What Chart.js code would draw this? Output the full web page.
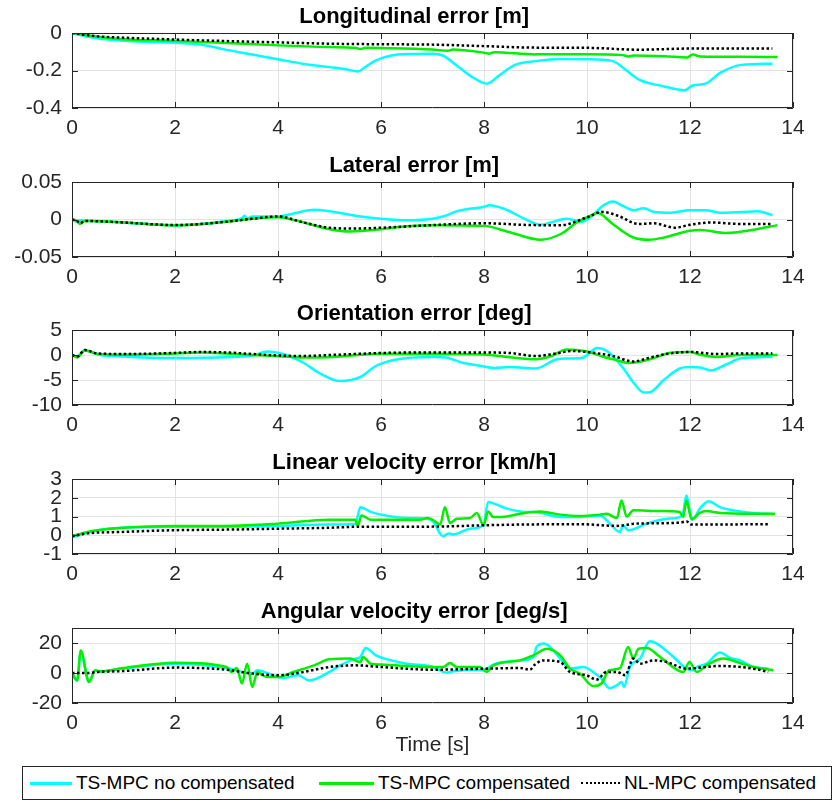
<!DOCTYPE html>
<html>
<head>
<meta charset="utf-8">
<script src="https://cdn.jsdelivr.net/npm/chart.js@4.4.1/dist/chart.umd.min.js"></script>
<style>
  body { margin: 0; background: #fff; font-family: "Liberation Sans", Arial, sans-serif; }
  #fig { position: relative; width: 838px; height: 802px; }
  #fig canvas { position: absolute; left: 0; }
  #legend { position: absolute; left: 22px; top: 766px; width: 810px; height: 34px; box-sizing: border-box; border: 1px solid #262626; }
  #legend .item { position: absolute; top: 0; height: 32px; display: flex; align-items: center; font-size: 19px; color: #000; }
  #legend .swatch { display: inline-block; width: 42px; margin-right: 4px; }
</style>
</head>
<body>
<div id="fig">
  <canvas id="c1" width="838" height="143" style="top:0px"></canvas>
  <canvas id="c2" width="838" height="143" style="top:149px"></canvas>
  <canvas id="c3" width="838" height="143" style="top:297px"></canvas>
  <canvas id="c4" width="838" height="143" style="top:446px"></canvas>
  <canvas id="c5" width="838" height="165" style="top:595px"></canvas>
  <div id="legend">
    <div class="item" style="left:7px"><span class="swatch" style="border-top:3px solid #00ffff"></span>TS-MPC no compensated</div>
    <div class="item" style="left:296px"><span class="swatch" style="border-top:3px solid #00f000;width:55px"></span>TS-MPC compensated</div>
    <div class="item" style="left:558px"><span class="swatch" style="border-top:2px dotted #000;width:39px"></span>NL-MPC compensated</div>
  </div>
</div>
<script>
// [time s, value] pairs
const xTicks = [0, 2, 4, 6, 8, 10, 12, 14];

const lonTicks = [-0.4, -0.2, 0];
const lonNoComp = [[0,0],[0.3,-0.02],[0.6,-0.032],[1,-0.042],[1.5,-0.048],[2,-0.052],[2.5,-0.062],[3,-0.09],[3.5,-0.115],[4,-0.14],[4.5,-0.165],[5,-0.182],[5.3,-0.192],[5.55,-0.205],[5.7,-0.18],[5.9,-0.146],[6.2,-0.12],[6.5,-0.112],[7,-0.11],[7.2,-0.12],[7.5,-0.18],[7.8,-0.24],[8.05,-0.27],[8.3,-0.225],[8.6,-0.17],[9,-0.15],[9.5,-0.139],[10,-0.14],[10.5,-0.15],[10.7,-0.185],[11,-0.247],[11.5,-0.285],[11.9,-0.305],[12.05,-0.28],[12.3,-0.27],[12.6,-0.21],[13,-0.17],[13.6,-0.164]];
const lonComp = [[0,0],[0.5,-0.02],[1,-0.033],[2,-0.042],[3,-0.053],[4,-0.066],[5,-0.075],[5.5,-0.079],[5.6,-0.085],[5.7,-0.079],[6,-0.08],[7,-0.088],[7.3,-0.095],[7.4,-0.088],[8,-0.105],[8.1,-0.11],[8.2,-0.102],[9,-0.114],[10,-0.113],[10.7,-0.118],[10.8,-0.125],[10.9,-0.12],[11.5,-0.124],[11.95,-0.13],[12.05,-0.115],[12.2,-0.125],[13,-0.127],[13.7,-0.128]];
const lonNl = [[0,0],[0.5,-0.018],[1,-0.025],[2,-0.035],[3,-0.043],[4,-0.05],[5,-0.057],[6,-0.06],[7,-0.062],[8,-0.07],[9,-0.078],[10,-0.079],[11,-0.089],[12,-0.083],[13.6,-0.083]];

const latTicks = [-0.05, 0, 0.05];
const latNoComp = [[0,0],[0.1,-0.003],[0.15,-0.001],[0.5,-0.002],[1,-0.004],[2,-0.0075],[2.5,-0.006],[3,-0.002],[3.3,0.002],[3.35,0.005],[3.4,0.001],[3.5,0.004],[4,0.004],[4.3,0.008],[4.7,0.013],[5,0.011],[5.5,0.005],[6,0.001],[6.5,-0.001],[7,0.001],[7.2,0.004],[7.5,0.0115],[8,0.017],[8.1,0.019],[8.4,0.014],[8.8,0.0005],[9.1,-0.007],[9.3,-0.004],[9.6,0.001],[9.9,-0.003],[10.1,0.005],[10.3,0.018],[10.5,0.024],[10.7,0.018],[10.9,0.0125],[11.1,0.015],[11.3,0.01],[11.6,0.009],[12,0.0125],[12.3,0.0125],[12.6,0.009],[13,0.01],[13.3,0.011],[13.6,0.006]];
const latComp = [[0,0],[0.1,-0.002],[0.15,-0.006],[0.25,-0.002],[1,-0.004],[2,-0.008],[3,-0.003],[3.5,0.001],[4,0.003],[4.5,-0.004],[5,-0.013],[5.4,-0.016],[6,-0.013],[6.5,-0.009],[7,-0.0075],[8,-0.0085],[8.5,-0.017],[9.1,-0.027],[9.5,-0.019],[9.8,-0.004],[10.1,0.006],[10.2,0.009],[10.5,-0.006],[10.9,-0.024],[11.2,-0.027],[11.5,-0.024],[12,-0.015],[12.2,-0.014],[12.7,-0.018],[13.2,-0.014],[13.7,-0.0075]];
const latNl = [[0,0],[0.1,-0.002],[0.15,-0.005],[0.25,-0.002],[1,-0.004],[2,-0.0075],[3,-0.003],[3.5,0.001],[4,0.004],[4.5,-0.004],[5,-0.011],[5.5,-0.012],[6,-0.011],[7,-0.0075],[8,-0.005],[9,-0.0075],[9.5,-0.0075],[10,0.003],[10.3,0.01],[10.6,0.005],[11,-0.006],[11.3,-0.005],[11.7,-0.011],[12,-0.007],[12.4,-0.004],[13,-0.006],[13.6,-0.006]];

const oriTicks = [-10, -5, 0, 5];
const oriNoComp = [[0,0],[0.1,-0.3],[0.25,1.0],[0.5,0.1],[1,-0.3],[2,-0.6],[3,-0.45],[3.5,-0.1],[3.8,0.7],[4.1,0.2],[4.5,-1.6],[4.8,-3.6],[5.2,-5.2],[5.6,-4.4],[5.9,-2.2],[6.3,-0.9],[7,-0.4],[7.3,-0.6],[7.6,-1.6],[7.9,-2.1],[8.2,-2.6],[8.5,-2.4],[9,-2.7],[9.4,-0.9],[9.6,-0.7],[9.9,-0.6],[10.2,1.4],[10.4,0.7],[10.7,-2.6],[10.9,-5.5],[11.1,-7.5],[11.2,-7.5],[11.5,-4.9],[11.8,-2.7],[12,-2.4],[12.2,-2.5],[12.4,-3.1],[12.7,-1.9],[13,-0.65],[13.6,-0.4]];
const oriComp = [[0,0],[0.1,-0.5],[0.25,0.9],[0.5,0.2],[1,0.05],[2,0.3],[2.5,0.5],[3,0.3],[3.5,0],[4,-0.25],[4.5,-0.5],[5,-0.45],[5.5,-0.05],[6,0.25],[7,0.25],[8,0.1],[8.5,-0.45],[9,-0.85],[9.3,-0.25],[9.6,1.1],[10,0.7],[10.3,-0.3],[10.6,-1.1],[10.8,-1.6],[11,-1.4],[11.3,-0.6],[11.6,0.4],[12,0.6],[12.2,0.05],[12.5,-0.4],[13,0],[13.7,0]];
const oriNl = [[0,0],[0.1,-0.3],[0.25,1.0],[0.5,0.3],[1,0.2],[2,0.4],[2.5,0.6],[3,0.5],[3.5,0.2],[4,-0.1],[4.5,-0.2],[5,0],[5.5,0.2],[6,0.4],[7,0.5],[8,0.5],[8.5,0.4],[9,-0.2],[9.4,0.3],[9.7,0.8],[10,0.6],[10.5,-0.2],[10.9,-1.3],[11.2,-0.6],[11.6,0.3],[12,0.6],[12.5,0.2],[13,0.3],[13.6,0.3]];

const linTicks = [-1, 0, 1, 2, 3];
const linNoComp = [[0,-0.1],[0.2,0.05],[0.5,0.27],[1,0.4],[2,0.45],[3,0.45],[4,0.5],[5,0.57],[5.5,0.6],[5.6,1.5],[5.8,1.25],[6,1.1],[6.5,0.92],[6.9,0.88],[7.02,0.71],[7.2,-0.05],[7.31,0.09],[7.4,0.04],[7.73,0.35],[7.99,0.53],[8.08,1.77],[8.25,1.63],[8.44,1.42],[8.7,1.27],[9.09,1.2],[9.48,0.98],[9.86,0.98],[10.25,1.06],[10.38,0.8],[10.64,0.18],[10.7,0.53],[10.8,0.27],[11.16,0.62],[11.55,0.88],[11.8,0.97],[11.87,1.24],[11.93,2.12],[12.0,1.24],[12.05,0.83],[12.19,1.42],[12.36,1.82],[12.58,1.5],[12.97,1.27],[13.23,1.19],[13.62,1.12]];
const linComp = [[0,-0.05],[0.3,0.18],[0.5,0.27],[1,0.4],[2,0.5],[3,0.5],[4,0.62],[5,0.83],[5.5,0.83],[5.55,0.5],[5.62,1.06],[5.8,0.83],[6.5,0.83],[6.76,0.83],[6.9,0.92],[7.02,0.8],[7.15,0.57],[7.24,1.5],[7.34,0.65],[7.47,0.88],[7.73,0.92],[7.86,1.19],[7.99,0.53],[8.08,1.27],[8.18,0.97],[8.44,1.0],[8.7,1.15],[9.09,1.27],[9.48,1.1],[9.86,1.03],[10.25,1.1],[10.38,1.15],[10.58,0.92],[10.67,1.86],[10.77,1.0],[10.9,1.33],[11.42,1.29],[11.8,1.24],[11.87,0.97],[11.93,1.86],[12.03,0.85],[12.19,1.19],[12.32,1.29],[12.58,1.19],[13.23,1.15],[13.65,1.15]];
const linNl = [[0,-0.05],[0.3,0.1],[1,0.18],[2,0.27],[3,0.3],[4,0.35],[5,0.4],[5.5,0.45],[7,0.46],[7.99,0.53],[8.7,0.57],[9.86,0.59],[10.58,0.5],[10.96,0.62],[11.8,0.67],[11.93,0.74],[12.03,0.57],[13.55,0.59]];

const angTicks = [-20, 0, 20];
const angNoComp = [[0,0],[0.1,-5],[0.17,14],[0.3,-4],[0.33,-6],[0.45,1.8],[0.55,1],[1,3],[2,6.2],[3,3.3],[3.5,-0.4],[3.6,1.8],[3.9,-1.5],[4.1,-3.3],[4.4,-1.5],[4.6,-5],[5,0.7],[5.2,5],[5.5,9.6],[5.6,10.7],[5.7,16.7],[5.9,11.8],[6.2,8.4],[6.5,6.2],[7,4.2],[7.27,0.2],[7.4,1.1],[7.73,2.2],[7.99,1.8],[8.18,5.6],[8.7,8.4],[8.96,10.7],[9.02,17.3],[9.16,19.6],[9.28,17.3],[9.48,9.6],[9.67,2.9],[9.93,4],[10.12,0.7],[10.28,-3.8],[10.43,-10],[10.58,-8.2],[10.67,-6],[10.72,-9.3],[10.83,4],[11.03,9.6],[11.22,21.1],[11.35,19.6],[11.68,10.7],[11.93,2.9],[12.03,1.8],[12.13,4],[12.32,6.2],[12.58,13.6],[12.78,10],[12.97,8.4],[13.23,4],[13.52,2.9]];
const angComp = [[0,0],[0.1,-5],[0.17,15],[0.3,-4],[0.33,-6],[0.45,1.8],[0.55,1],[1,3.3],[2,6.9],[3,4],[3.1,0.7],[3.2,3.3],[3.3,-7],[3.4,6.2],[3.5,-9.3],[3.6,0.7],[3.7,-1.5],[3.8,-2.7],[4,-2.7],[4.3,0.7],[4.7,5.1],[5,9.1],[5.4,9.6],[5.6,7.3],[5.65,10.7],[5.8,6.2],[6,5.6],[7,4],[7.21,4],[7.34,6.7],[7.47,4],[7.92,4],[8.05,0.7],[8.18,5.1],[8.7,8.4],[8.96,11.8],[9.22,16.2],[9.48,11.8],[9.67,2.9],[9.86,-0.4],[10.12,-8.7],[10.28,-7],[10.43,1.8],[10.64,3.3],[10.8,17.3],[10.9,9.6],[11.0,16.2],[11.16,16.7],[11.42,10.7],[11.87,0.7],[11.99,7.3],[12.13,0.7],[12.32,5.1],[12.65,9.6],[12.97,6.7],[13.23,4],[13.62,1.8]];
const angNl = [[0,0],[0.3,0],[0.5,0.7],[1,1.3],[2,3.6],[3,2.2],[3.3,0.7],[3.5,-0.4],[4,-1.5],[4.5,0.7],[5,4],[5.5,5.1],[6,4],[7,2.2],[8.05,2.9],[8.7,3.3],[8.89,2.2],[8.99,5.6],[9.15,8.4],[9.48,7.3],[9.67,0.7],[9.99,-1.5],[10.19,-4.4],[10.38,0.7],[10.58,0.7],[10.74,-1.5],[10.9,9.6],[11.03,6.2],[11.29,8.4],[11.55,7.3],[11.93,2.9],[12.58,4.7],[13.23,2.9],[13.52,0.7]];

const FONT = '"Liberation Sans", Arial, sans-serif';

// matlab style box with inward ticks
const boxTicks = {
  id: 'boxTicks',
  afterDatasetsDraw(chart) {
    const { ctx, chartArea: a, scales: { x, y } } = chart;
    ctx.save();
    ctx.strokeStyle = '#262626';
    ctx.lineWidth = 1;
    ctx.beginPath();
    ctx.rect(a.left + 0.5, a.top + 0.5, a.width - 1, a.height - 1);
    x.ticks.forEach(t => {
      const px = Math.round(x.getPixelForValue(t.value)) + 0.5;
      ctx.moveTo(px, a.bottom); ctx.lineTo(px, a.bottom - 6);
      ctx.moveTo(px, a.top); ctx.lineTo(px, a.top + 6);
    });
    y.ticks.forEach(t => {
      const py = Math.round(y.getPixelForValue(t.value)) + 0.5;
      ctx.moveTo(a.left, py); ctx.lineTo(a.left + 6, py);
      ctx.moveTo(a.right, py); ctx.lineTo(a.right - 6, py);
    });
    ctx.stroke();
    ctx.restore();
  }
};

function series(pairs, color, order, dotted) {
  return {
    data: pairs.map(p => ({ x: p[0], y: p[1] })),
    borderColor: color,
    borderWidth: 2.5,
    borderDash: dotted ? [2.5, 2.5] : [],
    pointRadius: 0,
    cubicInterpolationMode: 'monotone',
    fill: false,
    order: order
  };
}

function makePlot(id, title, noComp, comp, nl, yTicks, yMax, xTitle) {
  new Chart(document.getElementById(id), {
    type: 'line',
    data: {
      datasets: [
        series(noComp, '#00ffff', 3, false),
        series(comp, '#00f000', 2, false),
        series(nl, '#000000', 1, true)
      ]
    },
    options: {
      responsive: false,
      animation: false,
      devicePixelRatio: 1,
      layout: { padding: { left: 0, right: 45, top: 0, bottom: 0 } },
      plugins: {
        legend: { display: false },
        tooltip: { enabled: false },
        title: {
          display: true,
          // trailing spaces nudge the title left of the axes centre, like the original
          text: title + '      ',
          fullSize: false,
          color: '#000',
          font: { family: FONT, size: 22, weight: 'bold' },
          padding: { top: 4, bottom: 2.6 }
        }
      },
      scales: {
        x: {
          type: 'linear',
          min: 0,
          max: 14,
          afterBuildTicks: s => { s.ticks = xTicks.map(v => ({ value: v })); },
          afterFit: s => { s.height = xTitle ? 57 : 35; },
          grid: { color: '#e3e3e3', drawTicks: false },
          border: { display: false },
          ticks: { color: '#262626', padding: 8, autoSkip: false, maxRotation: 0, font: { family: FONT, size: 21 }, callback: v => String(v) },
          title: {
            display: !!xTitle,
            text: xTitle || '',
            color: '#262626',
            font: { family: FONT, size: 21 },
            padding: { top: 0, bottom: 2.4 }
          }
        },
        y: {
          min: yTicks[0],
          max: yMax,
          afterBuildTicks: s => { s.ticks = yTicks.map(v => ({ value: v })); },
          afterFit: s => { s.width = 72; },
          grid: { color: '#e3e3e3', drawTicks: false },
          border: { display: false },
          ticks: { color: '#262626', padding: 10, autoSkip: false, font: { family: FONT, size: 21 }, callback: v => String(v) }
        }
      }
    },
    plugins: [boxTicks]
  });
}

makePlot('c1', 'Longitudinal error [m]', lonNoComp, lonComp, lonNl, lonTicks, 0);
makePlot('c2', 'Lateral error [m]', latNoComp, latComp, latNl, latTicks, 0.05);
makePlot('c3', 'Orientation error [deg]', oriNoComp, oriComp, oriNl, oriTicks, 5);
makePlot('c4', 'Linear velocity error [km/h]', linNoComp, linComp, linNl, linTicks, 3);
makePlot('c5', 'Angular velocity error [deg/s]', angNoComp, angComp, angNl, angTicks, 30, 'Time [s]');
</script>
</body>
</html>
